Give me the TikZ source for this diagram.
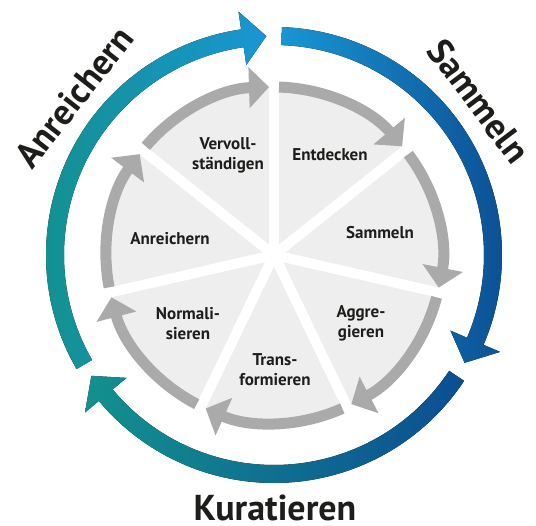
\documentclass[tikz,border=0pt]{standalone}
\usepackage{fontspec}
\setmainfont{PT Sans}
\usetikzlibrary{arrows.meta}

\definecolor{cycteal}{HTML}{12918E}
\definecolor{cycblue}{HTML}{1996D3}
\definecolor{cycdark}{HTML}{0B4E92}
\definecolor{wedgegray}{HTML}{EEEEEE}
\definecolor{arrowgray}{HTML}{AAAAAA}
\definecolor{labelink}{HTML}{1D1D1B}

\tikzset{
  ringlabel/.style={font=\fontsize{36}{36}\selectfont\bfseries, text=labelink},
  steplabel/.style={font=\fontsize{17}{20}\selectfont\bfseries, text=labelink,
                    align=center},
  steparrow/.style={draw=arrowgray, line width=11pt,
                    -{Triangle[length=20pt, width=40pt]}},
  wedgegap/.style={draw=white, line width=10pt},
}

\begin{document}
\begin{tikzpicture}[x=1pt, y=1pt]
  \useasboundingbox (-274,-271) rectangle (262,255);

  % Outer cycle: three shaded arrows
  \fill[left color=cycblue, right color=cycdark]
    (88:228) arc[start angle=88, end angle=-23.2, radius=228pt]
    -- (-23.2:246) -- (-29.5:219) -- (-23.2:192) -- (-23.2:210)
    arc[start angle=-23.2, end angle=88, radius=210pt] -- cycle;
  \fill[left color=cycteal, middle color=cycblue, right color=cycdark]
    (-33.5:228) arc[start angle=-33.5, end angle=-140.2, radius=228pt]
    -- (-140.2:246) -- (-146.5:219) -- (-140.2:192) -- (-140.2:210)
    arc[start angle=-140.2, end angle=-33.5, radius=210pt] -- cycle;
  \fill[left color=cycteal, right color=cycblue]
    (210:228) arc[start angle=210, end angle=98.3, radius=228pt]
    -- (98.3:246) -- (92:219) -- (98.3:192) -- (98.3:210)
    arc[start angle=98.3, end angle=210, radius=210pt] -- cycle;

  % Outer labels
  \node[ringlabel, rotate=-53] (lblSammeln) at (205,154) {Sammeln};
  \node[ringlabel, anchor=base] (lblKuratieren) at (1,-266) {Kuratieren};
  \node[ringlabel, rotate=52] (lblAnreichern) at (-200,158) {Anreichern};

  % Inner pie with seven wedges
  \fill[wedgegray] (0,0) circle[radius=168pt];
  \foreach \a in {90, 38.57, -12.86, -64.29, -115.71, -167.14, 141.43}
    \draw[wedgegap] (0,0) -- (\a:176);

  % Step arrows
  \draw[steparrow] (88.3:168) arc[start angle=88.3, end angle=40.3, radius=168pt];
  \draw[steparrow] (36.9:168) arc[start angle=36.9, end angle=-11.2, radius=168pt];
  \draw[steparrow] (-14.6:168) arc[start angle=-14.6, end angle=-62.6, radius=168pt];
  \draw[steparrow] (-66:168) arc[start angle=-66, end angle=-114, radius=168pt];
  \draw[steparrow] (-117.4:168) arc[start angle=-117.4, end angle=-165.4, radius=168pt];
  \draw[steparrow] (191.1:168) arc[start angle=191.1, end angle=143.1, radius=168pt];
  \draw[steparrow] (139.7:168) arc[start angle=139.7, end angle=91.7, radius=168pt];

  % Step labels
  \node[steplabel] (stEntdecken) at (56,100) {Entdecken};
  \node[steplabel] (stSammeln) at (106,22) {Sammeln};
  \node[steplabel] (stAggregieren) at (87,-68) {Aggre-\\gieren};
  \node[steplabel] (stTransformieren) at (1,-115) {Trans-\\formieren};
  \node[steplabel] (stNormalisieren) at (-86,-69) {Normali-\\sieren};
  \node[steplabel] (stAnreichern) at (-104,16) {Anreichern};
  \node[steplabel] (stVervoll) at (-46,100) {Vervoll-\\ständigen};
\end{tikzpicture}
\end{document}
